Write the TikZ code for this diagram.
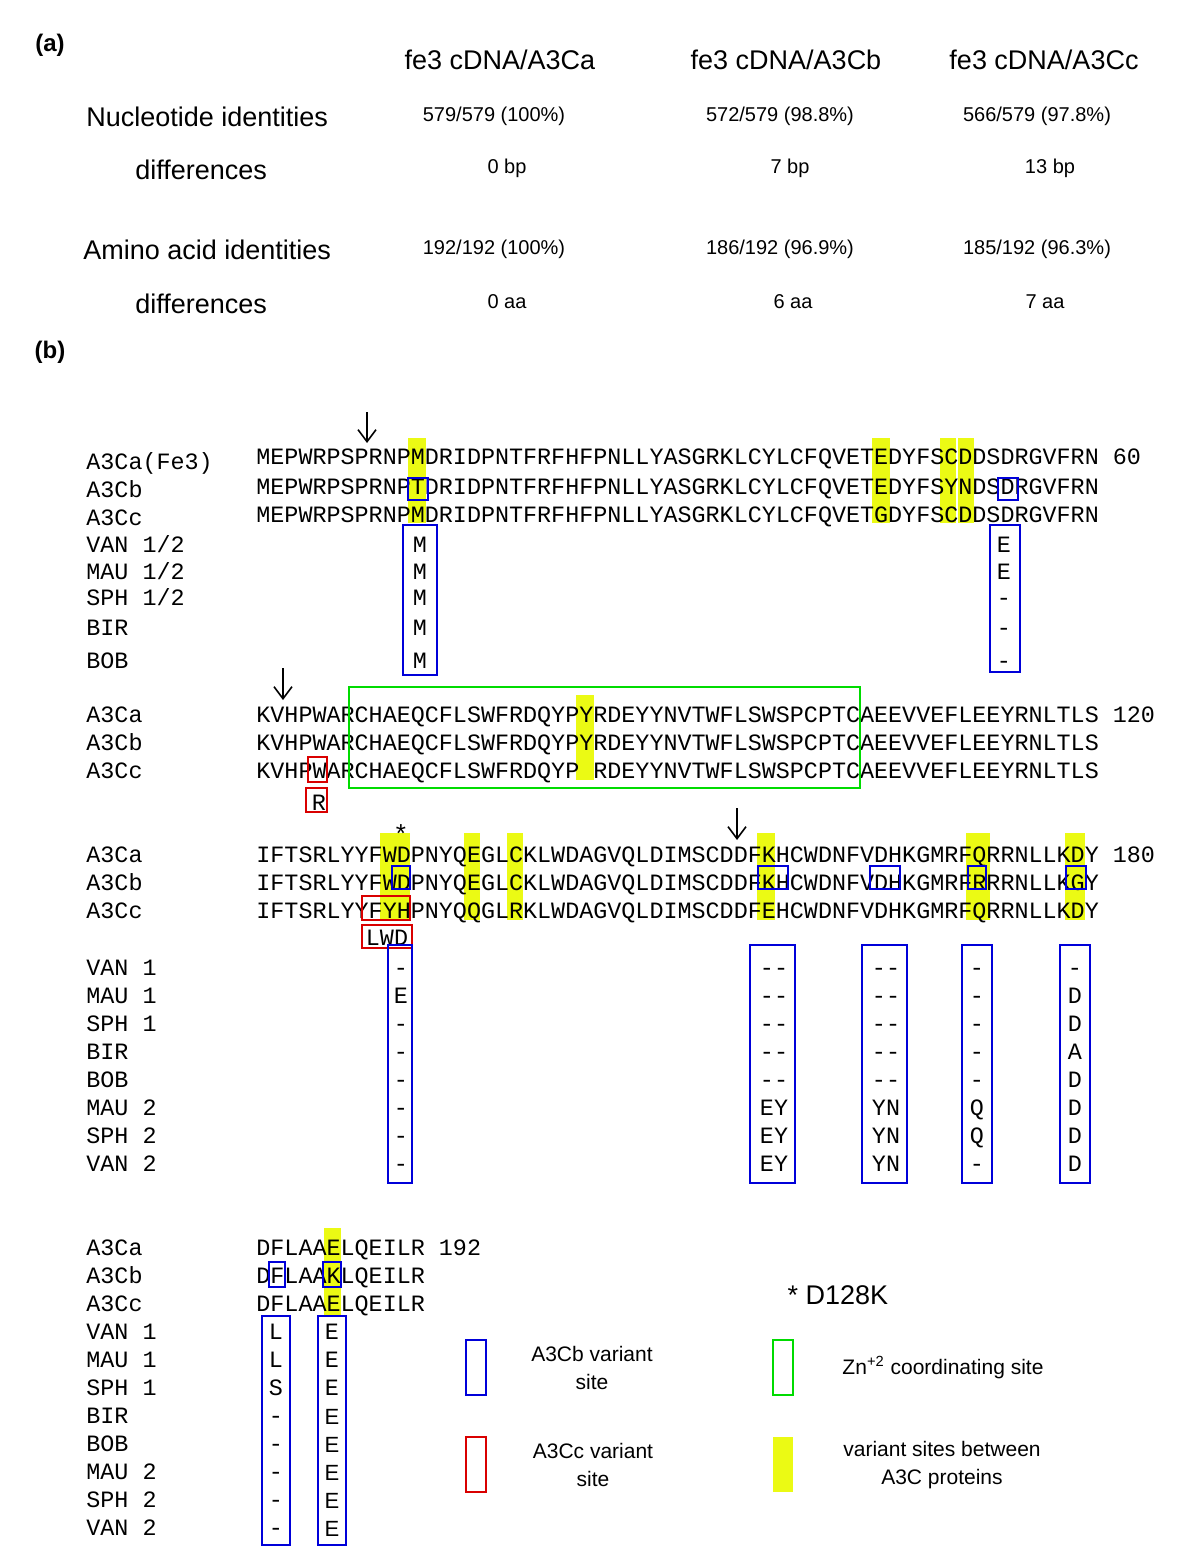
\documentclass[tikz,border=0pt]{standalone}
\usepackage{fontspec}
\usetikzlibrary{arrows.meta}
\setmainfont{Liberation Sans}
\newfontfamily\seqf{Liberation Mono}
\definecolor{hy}{RGB}{235,250,20}
\begin{document}
\begin{tikzpicture}[x=0.5pt,y=-0.5pt,
 sq/.style={font=\seqf\fontsize{11.7pt}{12pt}\selectfont,inner sep=0pt},
 sw/.style={sq,anchor=base west},
 sc/.style={sq,anchor=base},
 hd/.style={font=\fontsize{13.5pt}{15pt}\selectfont,inner sep=0pt},
 vl/.style={font=\fontsize{10pt}{12pt}\selectfont,inner sep=0pt},
 lg/.style={font=\fontsize{10.5pt}{14pt}\selectfont,inner sep=0pt,align=center},
 yel/.style={fill=hy,draw=none},
 bb/.style={draw=blue!85!black,line width=0.9pt},
 rb/.style={draw=red!85!black,line width=0.9pt},
 gb/.style={draw=green!80!black!70!green,line width=0.9pt},
 arr/.style={-{Straight Barb[length=6pt,width=9pt]},line width=0.8pt}]
\useasboundingbox (0,0) rectangle (1200,1562);
% (a)
\node[font=\bfseries\fontsize{12pt}{14pt}\selectfont] (la) at (50,45) {(a)};
\node[hd] (h1) at (500,60) {fe3 cDNA/A3Ca};
\node[hd] (h2) at (786,60) {fe3 cDNA/A3Cb};
\node[hd] (h3) at (1044,60) {fe3 cDNA/A3Cc};
\node[hd,anchor=west] (r1) at (86,117) {Nucleotide identities};
\node[hd,anchor=west] (r2) at (135,170) {differences};
\node[hd,anchor=west] (r3) at (83,250) {Amino acid identities};
\node[hd,anchor=west] (r4) at (135,304) {differences};
\node[vl] (v11) at (494,116) {579/579 (100\%)};
\node[vl] (v12) at (780,116) {572/579 (98.8\%)};
\node[vl] (v13) at (1037,116) {566/579 (97.8\%)};
\node[vl] (v21) at (507,168) {0 bp};
\node[vl] (v22) at (790,168) {7 bp};
\node[vl] (v23) at (1050,168) {13 bp};
\node[vl] (v31) at (494,249) {192/192 (100\%)};
\node[vl] (v32) at (780,249) {186/192 (96.9\%)};
\node[vl] (v33) at (1037,249) {185/192 (96.3\%)};
\node[vl] (v41) at (507,302) {0 aa};
\node[vl] (v42) at (793,302) {6 aa};
\node[vl] (v43) at (1045,302) {7 aa};
\node[font=\bfseries\fontsize{12pt}{14pt}\selectfont] (lb) at (50,352) {(b)};
% ---------- block 1
\fill[yel] (408,438) rectangle (426,523);
\fill[yel] (872,438) rectangle (890,523);
\fill[yel] (940,438) rectangle (956,523);
\fill[yel] (958,438) rectangle (974,523);
\node[sw] (a1) at (86,469) {A3Ca(Fe3)};
\node[sw] (b1) at (86,497) {A3Cb};
\node[sw] (c1) at (86,525) {A3Cc};
\node[sw] at (86,552) {VAN 1/2};
\node[sw] at (86,579) {MAU 1/2};
\node[sw] at (86,605) {SPH 1/2};
\node[sw] at (86,635) {BIR};
\node[sw] at (86,668) {BOB};
\node[sw] (sa1) at (256,464) {MEPWRPSPRNPMDRIDPNTFRFHFPNLLYASGRKLCYLCFQVETEDYFSCDDSDRGVFRN 60};
\node[sw] (sb1) at (256,494) {MEPWRPSPRNPTDRIDPNTFRFHFPNLLYASGRKLCYLCFQVETEDYFSYNDSDRGVFRN};
\node[sw] (sc1) at (256,522) {MEPWRPSPRNPMDRIDPNTFRFHFPNLLYASGRKLCYLCFQVETGDYFSCDDSDRGVFRN};
\foreach \t/\y in {M/552,M/579,M/605,M/635,M/668}{\node[sc] at (420,\y) {\t};}
\foreach \t/\y in {E/552,E/579,-/605,-/635,-/668}{\node[sc] at (1004,\y) {\t};}
\draw[bb] (408,478) rectangle (428,500);
\draw[bb] (403,525) rectangle (437,675);
\draw[bb] (998,478) rectangle (1018,500);
\draw[bb] (990,525) rectangle (1020,672);
\coordinate (ar1s) at (367,412); \coordinate (ar1e) at (367,443);
\draw[arr] (ar1s) -- (ar1e);
% ---------- block 2
\fill[yel] (576,695) rectangle (594,780);
\node[sw] at (86,722) {A3Ca};
\node[sw] at (86,750) {A3Cb};
\node[sw] at (86,778) {A3Cc};
\node[sw] at (256,722) {KVHPWARCHAEQCFLSWFRDQYPYRDEYYNVTWFLSWSPCPTCAEEVVEFLEEYRNLTLS 120};
\node[sw] at (256,750) {KVHPWARCHAEQCFLSWFRDQYPYRDEYYNVTWFLSWSPCPTCAEEVVEFLEEYRNLTLS};
\node[sw] at (256,778) {KVHPWARCHAEQCFLSWFRDQYP\phantom{C}RDEYYNVTWFLSWSPCPTCAEEVVEFLEEYRNLTLS};
\node[sc] at (319,810) {R};
\draw[gb] (349,687) rectangle (860,788);
\draw[rb] (308,757) rectangle (327,782);
\draw[rb] (306,788) rectangle (327,812);
\coordinate (ar2s) at (283,668); \coordinate (ar2e) at (283,700);
\draw[arr] (ar2s) -- (ar2e);
% ---------- block 3
\fill[yel] (380,833) rectangle (410,920);
\fill[yel] (464,833) rectangle (480,920);
\fill[yel] (507,833) rectangle (523,920);
\fill[yel] (757,833) rectangle (775,920);
\fill[yel] (966,833) rectangle (990,920);
\fill[yel] (1065,833) rectangle (1085,920);
\node[sw] at (86,862) {A3Ca};
\node[sw] at (86,890) {A3Cb};
\node[sw] at (86,918) {A3Cc};
\foreach \n/\y in {VAN 1/975,MAU 1/1003,SPH 1/1031,BIR/1059,BOB/1087,MAU 2/1115,SPH 2/1143,VAN 2/1171}{\node[sw] at (86,\y) {\n};}
\node[sw] at (256,862) {IFTSRLYYFWDPNYQEGLCKLWDAGVQLDIMSCDDFKHCWDNFVDHKGMRFQRRNLLKDY 180};
\node[sw] at (256,890) {IFTSRLYYFWDPNYQEGLCKLWDAGVQLDIMSCDDFKHCWDNFVDHKGMRFRRRNLLKGY};
\node[sw] at (256,918) {IFTSRLYYFYHPNYQQGLRKLWDAGVQLDIMSCDDFEHCWDNFVDHKGMRFQRRNLLKDY};
\node[sc] at (387,945) {LWD};
\node[font=\fontsize{13pt}{14pt}\selectfont,inner sep=0pt] at (401,834) {*};
\foreach \a/\b/\c/\d/\e [count=\i] in {-/--/--/-/-,E/--/--/-/D,-/--/--/-/D,-/--/--/-/A,-/--/--/-/D,-/EY/YN/Q/D,-/EY/YN/Q/D,-/EY/YN/-/D}{
 \pgfmathsetmacro\yy{947+28*\i}
 \node[sc] at (401,\yy) {\a};
 \node[sc] at (774,\yy) {\b};
 \node[sc] at (886,\yy) {\c};
 \node[sc] at (977,\yy) {\d};
 \node[sc] at (1075,\yy) {\e};}
\draw[bb] (392,866) rectangle (410,889);
\draw[bb] (758,866) rectangle (788,889);
\draw[bb] (870,866) rectangle (900,889);
\draw[bb] (968,866) rectangle (986,889);
\draw[bb] (1066,866) rectangle (1086,889);
\draw[rb] (362,896) rectangle (410,920);
\draw[rb] (362,925) rectangle (412,948);
\draw[bb] (388,945) rectangle (412,1183);
\draw[bb] (750,945) rectangle (795,1183);
\draw[bb] (862,945) rectangle (907,1183);
\draw[bb] (962,945) rectangle (992,1183);
\draw[bb] (1060,945) rectangle (1090,1183);
\coordinate (ar3s) at (737,808); \coordinate (ar3e) at (737,840);
\draw[arr] (ar3s) -- (ar3e);
% ---------- block 4
\fill[yel] (324,1228) rectangle (341,1316);
\node[sw] at (86,1255) {A3Ca};
\node[sw] at (86,1283) {A3Cb};
\node[sw] at (86,1311) {A3Cc};
\foreach \n/\y in {VAN 1/1339,MAU 1/1367,SPH 1/1395,BIR/1423,BOB/1451,MAU 2/1479,SPH 2/1507,VAN 2/1535}{\node[sw] at (86,\y) {\n};}
\node[sw] at (256,1255) {DFLAAELQEILR 192};
\node[sw] at (256,1283) {DFLAAKLQEILR};
\node[sw] at (256,1311) {DFLAAELQEILR};
\foreach \a/\b [count=\i] in {L/E,L/E,S/E}{
 \pgfmathsetmacro\yy{1311+28*\i}
 \node[sc] at (276,\yy) {\a}; \node[sc] at (332,\yy) {\b};}
\foreach \i in {4,...,8}{
 \pgfmathsetmacro\yy{1311+28*\i}
 \node[sc] at (276,\yy) {-};
 \node[font=\fontsize{11pt}{12pt}\selectfont,anchor=base,inner sep=0pt] at (332,\yy+1) {E};}
\draw[bb] (269,1262) rectangle (285,1287);
\draw[bb] (323,1262) rectangle (341,1287);
\draw[bb] (262,1316) rectangle (290,1545);
\draw[bb] (318,1316) rectangle (346,1545);
% legend
\node[font=\fontsize{13.5pt}{15pt}\selectfont] (mut) at (838,1295) {* D128K};
\draw[bb] (466,1340) rectangle (486,1395);
\node[lg] (l1) at (592,1368) {A3Cb variant\\site};
\draw[rb] (466,1437) rectangle (486,1492);
\node[lg] (l2) at (593,1465) {A3Cc variant\\site};
\draw[gb] (773,1340) rectangle (793,1395);
\node[lg] (l3) at (943,1368) {Zn\textsuperscript{+2} coordinating site};
\fill[yel] (773,1437) rectangle (793,1492);
\node[lg] (l4) at (942,1465) {variant sites between\\A3C proteins};
\end{tikzpicture}
\end{document}
